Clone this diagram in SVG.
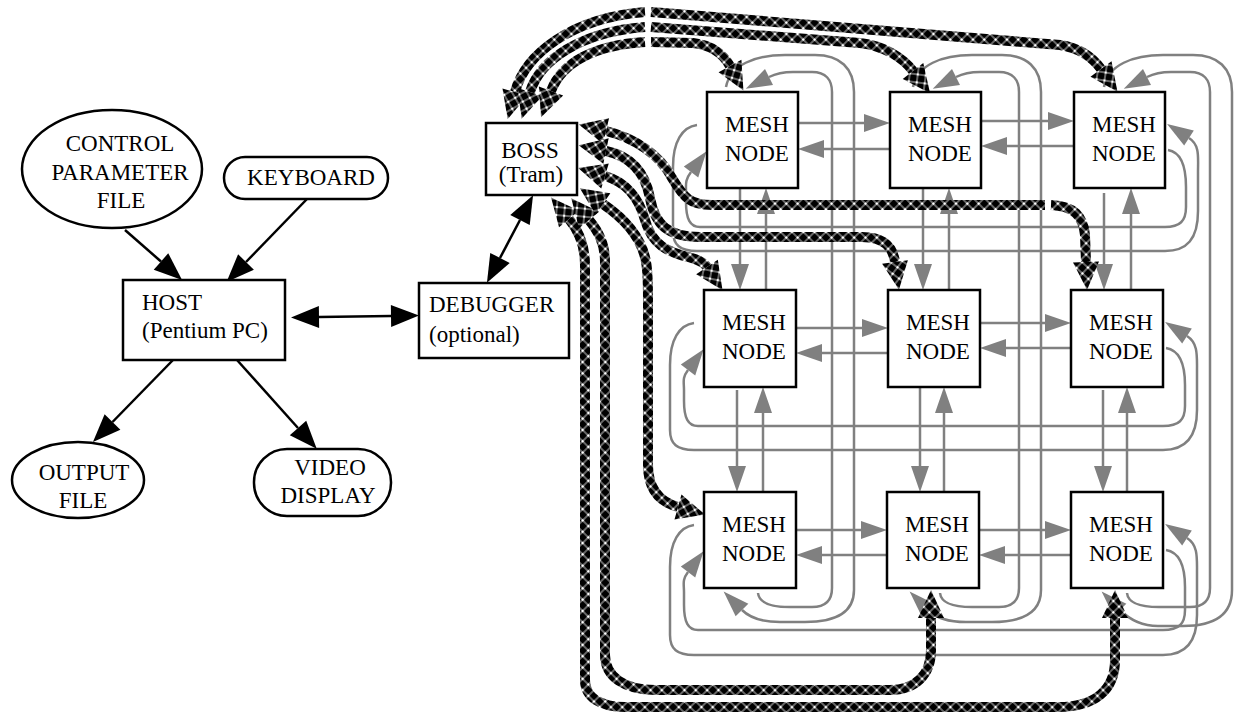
<svg xmlns="http://www.w3.org/2000/svg" width="1235" height="715" viewBox="0 0 1235 715">
<defs>
<pattern id="chk" width="8" height="8" patternUnits="userSpaceOnUse" patternTransform="rotate(45)">
<rect width="8" height="8" fill="#000"/>
<rect x="0" y="3.6" width="8" height="0.8" fill="#fff"/>
<rect x="3.6" y="0" width="0.8" height="8" fill="#fff"/>
<rect x="2.9" y="2.9" width="2.2" height="2.2" fill="#fff"/>
</pattern>
<marker id="ga" markerUnits="userSpaceOnUse" markerWidth="26" markerHeight="18" refX="0" refY="9" orient="auto" overflow="visible">
<path d="M0,0 L26,9 L0,18 z" fill="#808080"/>
</marker>
<marker id="ba" markerUnits="userSpaceOnUse" markerWidth="28" markerHeight="22" refX="0" refY="11" orient="auto-start-reverse" overflow="visible">
<path d="M0,0 L28,11 L0,22 z" fill="#000"/>
</marker>
<marker id="ca" markerUnits="userSpaceOnUse" markerWidth="28" markerHeight="26" refX="0" refY="13" orient="auto-start-reverse" overflow="visible">
<path d="M0,0 L28,13 L0,26 z" fill="url(#chk)"/>
</marker>
</defs>
<style>
.n{fill:#fff;stroke:#000;stroke-width:2.5}
.t{font-family:"Liberation Serif","Times New Roman",serif;font-size:23px;fill:#000}
.m{text-anchor:middle}
.g{fill:none;stroke:#808080;stroke-width:2.5}
.ge{marker-end:url(#ga)}
.b{fill:none;stroke:#000;stroke-width:2.5;marker-end:url(#ba)}
.bb{marker-start:url(#ba)}
.c{fill:none;stroke:url(#chk);stroke-width:10}
.cs{marker-start:url(#ca)}
.ce{marker-end:url(#ca)}
</style>
<rect width="1235" height="715" fill="#fff"/>

<g id="connectors">
<!-- left side solid arrows -->
<line class="b" x1="125" y1="230" x2="161" y2="261.5"/>
<line class="b" x1="307" y1="199" x2="246" y2="262"/>
<line class="b bb" x1="319" y1="317" x2="391" y2="316"/>
<line class="b" x1="173" y1="360" x2="112.5" y2="422"/>
<line class="b" x1="237" y1="360" x2="298" y2="428"/>
<line class="b bb" x1="520" y1="220" x2="500" y2="258"/>

<!-- gray mesh: column wrap loops -->
<path class="g ge" d="M758,593 C759,603 770,607 790,607 L812,607 C826,607 832,600 832,588 L832,92 C832,80 826,72 812,72 L793,72 C783,72 775,74 769,77"/>
<path class="g ge" d="M726,87 C730,65 755,55 785,55 L815,55 C840,55 854,68 854,92 L854,590 C854,610 840,622 805,622 L780,622 C760,622 748,616 742,610"/>
<path class="g ge" d="M940,593 C941,603 952,607 972,607 L999,607 C1013,607 1019,600 1019,588 L1019,92 C1019,80 1013,72 999,72 L980,72 C970,72 962,74 956,77"/>
<path class="g ge" d="M913,87 C917,65 942,55 972,55 L1002,55 C1027,55 1041,68 1041,92 L1041,590 C1041,610 1027,622 992,622 L966,622 C946,622 934,616 928,610"/>
<path class="g ge" d="M1127,593 C1128,603 1139,607 1159,607 L1190,607 C1204,607 1210,600 1210,588 L1210,92 C1210,80 1204,72 1190,72 L1171,72 C1161,72 1153,74 1147,77"/>
<path class="g ge" d="M1104,87 C1108,65 1133,55 1163,55 L1193,55 C1218,55 1232,68 1232,92 L1232,590 C1232,612 1218,626 1183,626 L1158,626 C1138,626 1126,616 1120,610"/>

<!-- gray mesh: row wrap loops -->
<path class="g ge" d="M1168,150 C1180,152 1186,164 1186,187 L1186,207 C1186,221 1180,227 1165,227 L700,227 C690,227 686,219 686,202 L686,192 C686,184 685,180 691,172"/>
<path class="g ge" d="M697,125 C682,127 673,142 673,167 L673,231 C673,245 680,251 697,251 L1165,251 C1187,251 1198,239 1198,211 L1198,172 C1198,157 1200,145 1189,138"/>
<path class="g ge" d="M1166,348 C1178,350 1185,362 1185,385 L1185,406 C1185,420 1179,426 1163,426 L698,426 C688,426 684,418 684,401 L684,390 C684,382 682,378 688,370"/>
<path class="g ge" d="M694,323 C679,325 670,340 670,365 L670,430 C670,444 677,450 694,450 L1163,450 C1185,450 1197,438 1197,410 L1197,370 C1197,355 1198,343 1187,336"/>
<path class="g ge" d="M1166,550 C1178,552 1185,564 1185,587 L1185,610 C1185,624 1179,630 1163,630 L698,630 C688,630 684,622 684,605 L684,592 C684,584 682,580 688,572"/>
<path class="g ge" d="M694,525 C679,527 670,542 670,567 L670,635 C670,649 677,655 694,655 L1163,655 C1185,655 1197,643 1197,615 L1197,572 C1197,557 1198,545 1187,538"/>

<!-- gray mesh: neighbour links -->
<line class="g ge" x1="798" y1="123" x2="864" y2="123"/>
<line class="g ge" x1="890" y1="149" x2="824" y2="149"/>
<line class="g ge" x1="981" y1="121" x2="1048" y2="121"/>
<line class="g ge" x1="1074" y1="146" x2="1007" y2="146"/>
<line class="g ge" x1="796" y1="328" x2="862" y2="328"/>
<line class="g ge" x1="888" y1="353" x2="822" y2="353"/>
<line class="g ge" x1="980" y1="323" x2="1045" y2="323"/>
<line class="g ge" x1="1071" y1="348" x2="1006" y2="348"/>
<line class="g ge" x1="796" y1="530" x2="861" y2="530"/>
<line class="g ge" x1="887" y1="555" x2="822" y2="555"/>
<line class="g ge" x1="979" y1="530" x2="1045" y2="530"/>
<line class="g ge" x1="1071" y1="555" x2="1005" y2="555"/>
<line class="g ge" x1="740" y1="188" x2="740" y2="264"/>
<line class="g ge" x1="766" y1="290" x2="766" y2="214"/>
<line class="g ge" x1="923" y1="188" x2="923" y2="264"/>
<line class="g ge" x1="949" y1="290" x2="949" y2="214"/>
<line class="g ge" x1="1104" y1="193" x2="1104" y2="264"/>
<line class="g ge" x1="1131" y1="290" x2="1131" y2="214"/>
<line class="g ge" x1="737" y1="390" x2="737" y2="466"/>
<line class="g ge" x1="763" y1="492" x2="763" y2="413"/>
<line class="g ge" x1="920" y1="387" x2="920" y2="466"/>
<line class="g ge" x1="944" y1="492" x2="944" y2="413"/>
<line class="g ge" x1="1103" y1="390" x2="1103" y2="466"/>
<line class="g ge" x1="1127" y1="492" x2="1127" y2="413"/>

<!-- BOSS links (checkered) -->
<path class="c cs" d="M515,92 C525,55 570,18 645,12"/>
<path class="c ce" d="M651,12 L1060,45 C1080,48 1093,58 1101,69"/>
<path class="c cs" d="M530,92 C540,60 580,32 645,27"/>
<path class="c ce" d="M651,27 L860,43 C885,46 903,58 913,71"/>
<path class="c cs" d="M551,91 C562,62 595,45 645,42"/>
<path class="c ce" d="M651,42 L693,43 C712,45 724,55 730,66"/>
<path class="c cs" d="M606,131 C635,138 660,155 672,178 C684,198 690,205 712,205 L1045,205"/>
<path class="c ce" d="M1051,205 C1074,206 1083,216 1085,235 L1086,262"/>
<path class="c cs ce" d="M606,151 C630,156 645,172 650,198 C655,225 668,237 700,237 L862,237 C885,237 893,248 895,262"/>
<path class="c cs ce" d="M605,176 C625,182 638,195 645,220 C652,245 668,252 688,257 C695,259 703,261 707,267"/>
<path class="c cs ce" d="M569,219 C579,231 585,245 585,265 L585,680 C585,697 600,707 625,707 L1058,707 C1095,707 1115,690 1115,660 L1115,618"/>
<path class="c cs ce" d="M589,220 C598,231 605,243 605,262 L605,655 C605,677 625,690 655,690 L890,690 C915,690 931,675 931,650 L931,618"/>
<path class="c cs ce" d="M603,204 C625,219 642,238 646,262 C648,272 648,285 648,300 L648,465 C648,490 660,502 678,507"/>
</g>

<g id="cpf"><ellipse class="n" cx="112" cy="169" rx="90" ry="59"/>
<text class="t m" x="120" y="151">CONTROL</text><text class="t m" x="120" y="180">PARAMETER</text><text class="t m" x="121" y="208">FILE</text></g>
<g id="keyboard"><rect class="n" x="224" y="157" width="164" height="42" rx="21"/>
<text class="t m" x="311" y="185">KEYBOARD</text></g>
<g id="host"><rect class="n" x="123" y="280" width="162" height="80"/>
<text class="t" x="142" y="310">HOST</text><text class="t" x="142" y="338">(Pentium PC)</text></g>
<g id="output"><ellipse class="n" cx="78" cy="480" rx="66" ry="38"/>
<text class="t m" x="84" y="480">OUTPUT</text><text class="t m" x="83" y="508">FILE</text></g>
<g id="video"><rect class="n" x="254" y="449" width="137" height="67" rx="33"/>
<text class="t m" x="330" y="475">VIDEO</text><text class="t m" x="328" y="503">DISPLAY</text></g>
<g id="debugger"><rect class="n" x="419" y="283" width="150" height="75"/>
<text class="t" x="429" y="312">DEBUGGER</text><text class="t" x="429" y="342">(optional)</text></g>
<g id="boss"><rect class="n" x="486" y="123" width="91" height="72"/>
<text class="t m" x="530" y="158">BOSS</text><text class="t m" x="531" y="182">(Tram)</text></g>

<g id="mesh11"><rect class="n" x="707" y="92" width="91" height="96"/><text class="t" x="725" y="132">MESH</text><text class="t" x="725" y="161">NODE</text></g>
<g id="mesh12"><rect class="n" x="890" y="92" width="91" height="96"/><text class="t" x="908" y="132">MESH</text><text class="t" x="908" y="161">NODE</text></g>
<g id="mesh13"><rect class="n" x="1074" y="92" width="91" height="96"/><text class="t" x="1092" y="132">MESH</text><text class="t" x="1092" y="161">NODE</text></g>
<g id="mesh21"><rect class="n" x="704" y="290" width="92" height="97"/><text class="t" x="722" y="330">MESH</text><text class="t" x="722" y="359">NODE</text></g>
<g id="mesh22"><rect class="n" x="888" y="290" width="92" height="97"/><text class="t" x="906" y="330">MESH</text><text class="t" x="906" y="359">NODE</text></g>
<g id="mesh23"><rect class="n" x="1071" y="290" width="92" height="97"/><text class="t" x="1089" y="330">MESH</text><text class="t" x="1089" y="359">NODE</text></g>
<g id="mesh31"><rect class="n" x="704" y="492" width="92" height="96"/><text class="t" x="722" y="532">MESH</text><text class="t" x="722" y="561">NODE</text></g>
<g id="mesh32"><rect class="n" x="887" y="492" width="92" height="96"/><text class="t" x="905" y="532">MESH</text><text class="t" x="905" y="561">NODE</text></g>
<g id="mesh33"><rect class="n" x="1071" y="492" width="92" height="96"/><text class="t" x="1089" y="532">MESH</text><text class="t" x="1089" y="561">NODE</text></g>
</svg>
